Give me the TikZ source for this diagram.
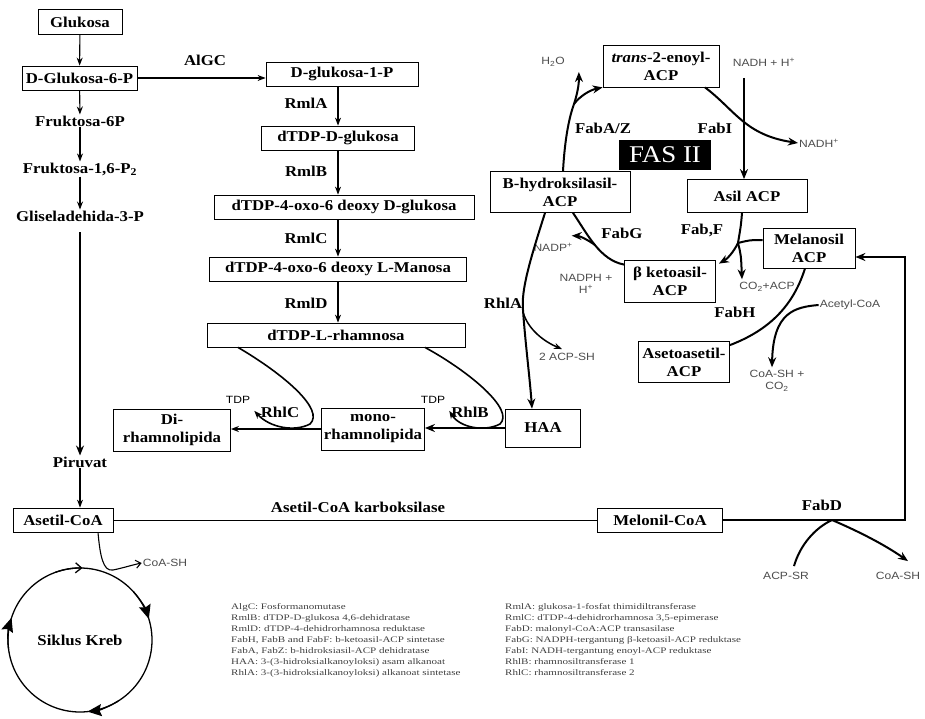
\documentclass[tikz,border=0pt]{standalone}
\usepackage{fontspec}
\setmainfont{Liberation Serif}[FakeStretch=1.12]
\setsansfont{Liberation Sans}[FakeStretch=1.15]
\newfontfamily\legfont{Liberation Serif}[FakeStretch=1.3]
\usetikzlibrary{arrows.meta,calc}

\tikzset{
  box/.style={draw, line width=0.8pt, font=\fontsize{15}{18}\selectfont\bfseries, inner sep=1pt, align=center},
  lbl/.style={font=\fontsize{15}{18}\selectfont\bfseries, inner sep=1pt},
  chem/.style={font=\fontsize{10.5}{12}\selectfont\sffamily, text=black!70, inner sep=1pt, align=center},
  leg/.style={font=\legfont\fontsize{8.5}{10}\selectfont, text=black!75, anchor=west, inner sep=0pt},
  arr/.style={line width=1.1pt, -{Stealth[length=8pt,width=6pt]}},
  fas/.style={line width=2pt},
  fasarr/.style={line width=2pt, -{Stealth[length=10pt,width=8pt]}},
  kreb/.style={line width=1.3pt, -{Stealth[length=14pt,width=12pt,inset=2pt]}},
}

\begin{document}
\begin{tikzpicture}[x=1pt,y=-1pt]
		\useasboundingbox (0,0) rectangle (925,719);
		%%%%% GLIKOLISIS %%%%%
		\node[box, minimum width=84, minimum height=25] (glc) at (80,22) {Glukosa};
		\node[box, minimum width=115, minimum height=24] (g6p) at (79.5,78) {D-Glukosa-6-P};
		\node[lbl] (f6p) at (80,121) {Fruktosa-6P};
		\node[lbl] (fbp) at (80,169) {Fruktosa-1,6-P\textsubscript{2}};
		\node[lbl] (gap) at (80,216) {Gliseladehida-3-P};
		\node[lbl] (pyr) at (80,462) {Piruvat};
		\node[box, minimum width=100, minimum height=24] (acoa) at (63,520) {Asetil-CoA};
		
		\draw[arr] (glc) -- (g6p);
		\draw[arr] (g6p) -- (f6p);
		\draw[arr] (f6p) -- (fbp);
		\draw[arr] (fbp) -- (gap);
		\draw[fasarr] (gap.south) ++(0,10) -- (pyr.north);
		\draw[arr] (pyr.south) -- (pyr.south |- acoa.north);
		
		%%%%% SIKLUS KREB %%%%%
		\node[lbl] (kreb) at (80,640) {Siklus Kreb};
		\draw[line width=1.3pt] (kreb.center) circle (72);
		\draw[kreb] ($(kreb.center)+(318:72)$) arc (318:343:72);
		\draw[kreb] ($(kreb.center)+(58:72)$) arc (58:84:72);
		\draw[kreb] ($(kreb.center)+(173:72)$) arc (173:198:72);
		\draw[line width=1.3pt, -{Straight Barb[length=6pt,width=10pt]}] ($(kreb.center)+(250:72)$) arc (250:272:72);
		\node[chem] (coash1) at (165,563) {CoA-SH};
		\draw[line width=1.1pt, -{Straight Barb[length=5pt,width=8pt]}] ($(acoa.south)+(35,0)$) .. controls (100,555) and (103,572) .. (113,570) .. controls (123,568) and (132,565) .. (coash1.west);
		
		%%%%% RHAMNOSA %%%%%
		\node[lbl] (algc) at (205,60) {AlGC};
		\node[box, minimum width=152, minimum height=24] (g1p) at (342,74) {D-glukosa-1-P};
		\node[box, minimum width=153, minimum height=24] (dtdpg) at (338,138) {dTDP-D-glukosa};
		\node[box, minimum width=260, minimum height=24] (oxog) at (344,207) {dTDP-4-oxo-6 deoxy D-glukosa};
		\node[box, minimum width=257, minimum height=24] (oxom) at (338,269) {dTDP-4-oxo-6 deoxy L-Manosa};
		\node[box, minimum width=258, minimum height=24] (rham) at (336,335) {dTDP-L-rhamnosa};
		\node[lbl] (rmla) at (306,103) {RmlA};
		\node[lbl] (rmlb) at (306,171) {RmlB};
		\node[lbl] (rmlc) at (306,238) {RmlC};
		\node[lbl] (rmld) at (306,303) {RmlD};
		
		\draw[arr] (g6p.east) -- (g6p.east -| g1p.west);
		\draw[arr] (g1p.south -| dtdpg.north) -- (dtdpg.north);
		\draw[arr] (dtdpg.south) -- (dtdpg.south |- oxog.north);
		\draw[arr] (oxog.south -| oxom.north) -- (oxom.north);
		\draw[arr] (oxom.south -| dtdpg.south) -- (dtdpg.south |- rham.north);
		
		%%%%% RHAMNOLIPIDA %%%%%
		\node[box, minimum width=117, minimum height=42] (dirl) at (172,430) {Di-\\rhamnolipida};
		\node[box, minimum width=103, minimum height=42] (monorl) at (373,429) {mono-\\rhamnolipida};
		\node[box, minimum width=75, minimum height=38] (haa) at (543,428) {HAA};
		\node[chem, text=black] (tdp1) at (238,400) {TDP};
		\node[chem, text=black] (tdp2) at (433,400) {TDP};
		\node[lbl] (rhlc) at (280,412) {RhlC};
		\node[lbl] (rhlb) at (470,412) {RhlB};
		
		\draw[fasarr] (haa.west) -- (haa.west -| monorl.east);
		\draw[arr, line width=1.4pt] (monorl.west) -- (monorl.west -| dirl.east);
		\draw[arr, line width=1.6pt] ($(rham.south)+(-98,0)$) .. controls (285,375) and (325,410) .. (310,424) .. controls (295,432) and (270,428) .. ($(tdp1.south east)+(3,6)$);
		\draw[arr, line width=1.6pt] ($(rham.south)+(89,0)$) .. controls (470,372) and (515,410) .. (500,424) .. controls (485,432) and (460,428) .. ($(tdp2.south east)+(3,6)$);
		
		%%%%% FAS II %%%%%
		\node[box, minimum width=116, minimum height=42] (enoyl) at (661,66) {\textit{trans}-2-enoyl-\\ACP};
		\node[box, minimum width=140, minimum height=41] (hyd) at (560,192) {B-hydroksilasil-\\ACP};
		\node[box, minimum width=120, minimum height=33] (asil) at (747,196) {Asil ACP};
		\node[box, minimum width=92, minimum height=40] (mel) at (809,248) {Melanosil\\ACP};
		\node[box, minimum width=91, minimum height=42] (keto) at (670,281) {β\ ketoasil-\\ACP};
		\node[box, minimum width=91, minimum height=41] (acac) at (684,362) {Asetoasetil-\\ACP};
		\node[fill=black, text=white, font=\fontsize{24}{24}\selectfont, minimum width=92, minimum height=30, inner sep=0pt] (fas2) at (665,155) {FAS II};
		
		\node[chem] (h2o) at (553,62) {H\textsubscript{2}O};
		\node[chem] (nadhh) at (764,62) {NADH + H\textsuperscript{+}};
		\node[chem] (nadh) at (819,143) {NADH\textsuperscript{+}};
		\node[chem] (nadp) at (553,247) {NADP\textsuperscript{+}};
		\node[chem] (nadph) at (586,284) {NADPH +\\H\textsuperscript{+}};
		\node[chem] (co2acp) at (767,287) {CO\textsubscript{2}+ACP};
		\node[chem] (acetyl) at (850,305) {Acetyl-CoA};
		\node[chem] (coasco2) at (777,381) {CoA-SH +\\CO\textsubscript{2}};
		\node[chem] (acpsh) at (567,357) {2 ACP-SH};
		
		\node[lbl] (fabaz) at (603,128) {FabA/Z};
		\node[lbl] (fabi) at (715,128) {FabI};
		\node[lbl] (fabg) at (622,233) {FabG};
		\node[lbl] (fabf) at (702,230) {Fab,F};
		\node[lbl] (fabh) at (735,312) {FabH};
		\node[lbl] (rhla) at (503,303) {RhlA};
		
		% dehidratase
		\draw[fas] ($(hyd.north)+(3,0)$) .. controls (565,135) and (570,115) .. (574,104) coordinate (jw);
		\draw[fasarr] (jw) .. controls (577,95) and (579,85) .. ($(h2o.east)+(13,10)$);
		\draw[fasarr] (jw) .. controls (580,96) and (590,90) .. (enoyl.south west);
		% reduktase
		\draw[fasarr] ($(enoyl.south)+(44,0)$) .. controls (735,110) and (745,135) .. (nadh.west);
		\coordinate (nin) at (744,78);
		\draw[fasarr] (nin) -- (nin |- asil.north);
		% sintetase
		\coordinate (jf) at (738,243);
		\draw[fas] ($(asil.south)+(-5,0)$) .. controls (741,225) .. (jf);
		\draw[fas] ($(mel.west)+(0,-8)$) .. controls (750,240) .. (jf);
		\draw[fasarr] (jf) .. controls (733,253) and (727,259) .. ($(keto.north east)+(3,4)$);
		\draw[fasarr] (jf) .. controls (741,255) .. ($(co2acp.north)+(-25,-2)$);
		% FabG
		\draw[fas] ($(keto.north west)+(0,5)$) .. controls (600,260) and (588,235) .. ($(hyd.south)+(13,0)$);
		\draw[fasarr] (595,245) .. controls (588,240) and (580,236) .. ($(nadp.north east)+(-2,-6)$);
		% FabH
		\draw[fas] ($(mel.south)+(-4,0)$) .. controls (795,300) and (775,328) .. ($(acac.north east)+(0,4)$);
		\draw[fasarr] (acetyl.west) .. controls (795,307) and (773,312) .. ($(coasco2.north)+(-5,-2)$);
		% RhlA
		\draw[fasarr] ($(hyd.south)+(-15,0)$) .. controls (530,260) and (521,290) .. (523,310) .. controls (525,340) and (530,380) .. ($(haa.north)+(-11,0)$);
		\draw[arr, line width=1.5pt] (523,312) .. controls (528,330) and (545,342) .. ($(acpsh.north)+(-5,-3)$);
		
		%%%%% MELONIL %%%%%
		\node[lbl] (karb) at (358,507) {Asetil-CoA karboksilase};
		\node[box, minimum width=125, minimum height=24] (melonil) at (660,520) {Melonil-CoA};
		\node[lbl] (fabd) at (822,505) {FabD};
		\node[chem] (acpsr) at (786,576) {ACP-SR};
		\node[chem] (coash2) at (898,576) {CoA-SH};
		
		\draw[line width=1pt] (acoa.east) -- (melonil.west);
		\draw[fasarr] (melonil.east) -| (905,257) -- ($(mel.east)+(0,9)$);
		\coordinate (jd) at (832,520);
		\draw[fasarr] (jd) .. controls (860,532) and (885,545) .. ($(coash2.north)+(10,-10)$);
		\draw[fas] (jd) .. controls (815,528) and (800,545) .. ($(acpsr.north)+(8,-5)$);
		
		%%%%% KETERANGAN %%%%%
		\node[leg] (l1) at (231,607) {AlgC: Fosformanomutase};
		\node[leg] (l2) at (231,618) {RmlB: dTDP-D-glukosa 4,6-dehidratase};
		\node[leg] (l3) at (231,629) {RmlD: dTDP-4-dehidrorhamnosa reduktase};
		\node[leg] (l4) at (231,640) {FabH, FabB and FabF: b-ketoasil-ACP sintetase};
		\node[leg] (l5) at (231,651) {FabA, FabZ: b-hidroksiasil-ACP dehidratase};
		\node[leg] (l6) at (231,662) {HAA: 3-(3-hidroksialkanoyloksi) asam alkanoat};
		\node[leg] (l7) at (231,673) {RhlA: 3-(3-hidroksialkanoyloksi) alkanoat sintetase};
		\node[leg] (r1) at (505,607) {RmlA: glukosa-1-fosfat thimidiltransferase};
		\node[leg] (r2) at (505,618) {RmlC: dTDP-4-dehidrorhamnosa 3,5-epimerase};
		\node[leg] (r3) at (505,629) {FabD: malonyl-CoA:ACP transasilase};
		\node[leg] (r4) at (505,640) {FabG: NADPH-tergantung β-ketoasil-ACP reduktase};
		\node[leg] (r5) at (505,651) {FabI: NADH-tergantung enoyl-ACP reduktase};
		\node[leg] (r6) at (505,662) {RhlB: rhamnosiltransferase 1};
		\node[leg] (r7) at (505,673) {RhlC: rhamnosiltransferase 2};
	\end{tikzpicture}
\end{document}
